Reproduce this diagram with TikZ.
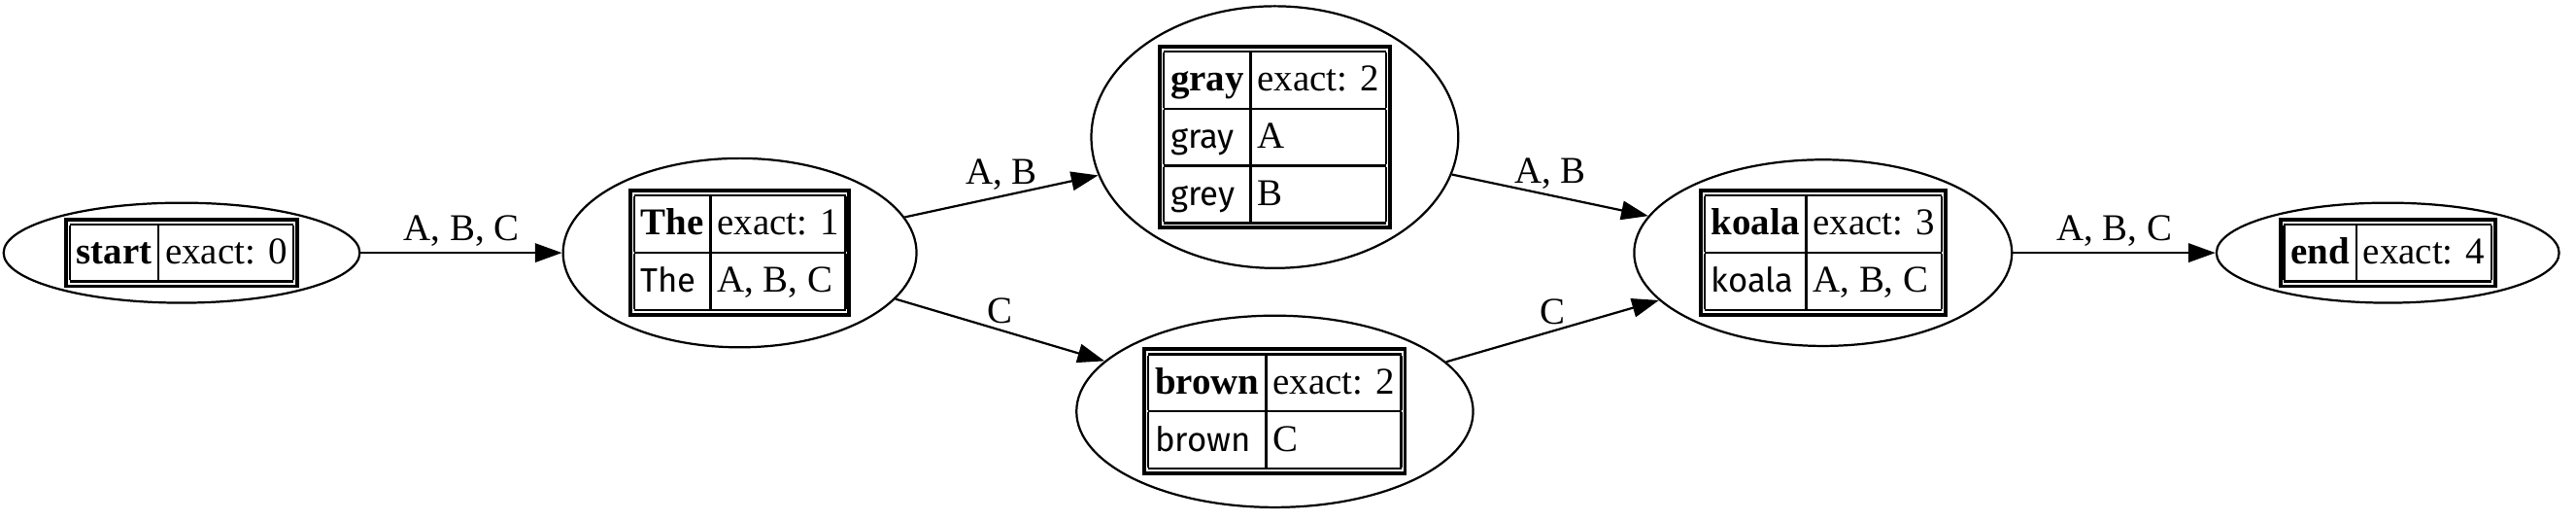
\documentclass[tikz,border=0pt]{standalone}
\usepackage{fontspec}
\setmainfont{Liberation Serif}
\newfontfamily\uncialfont{Fira Sans}
\usetikzlibrary{arrows.meta,shapes.geometric}

\setlength{\tabcolsep}{2.5pt}
\setlength{\arrayrulewidth}{0.8pt}
\renewcommand{\arraystretch}{1.2}
\newcommand{\uncial}[1]{{\uncialfont\fontsize{12.5}{15}\selectfont #1}}
\newcommand{\wordtab}[1]{{\setlength{\fboxrule}{1.4pt}\setlength{\fboxsep}{0.7pt}%
  \fbox{\begin{tabular}{|l|l|}\hline #1\end{tabular}}}}

\begin{document}
\begin{tikzpicture}[x=0.612pt,y=-0.612pt]
\useasboundingbox (0,0) rectangle (1560,315);

\begin{scope}[every node/.style={ellipse,draw,line width=0.8pt,inner sep=0pt,
                                 font=\fontsize{14}{17}\selectfont}]
    \node[minimum width=132pt,minimum height=36pt] (start) at (110,153)
        {\wordtab{\textbf{start} & exact: 0\\ \hline}};
    \node[minimum width=131pt,minimum height=70pt] (the) at (448,153)
        {\wordtab{\textbf{The} & exact: 1\\ \hline \uncial{The} & A, B, C\\ \hline}};
    \node[minimum width=136pt,minimum height=97pt] (gray) at (772,83)
        {\wordtab{\textbf{gray} & exact: 2\\ \hline \uncial{gray} & A\\ \hline \uncial{grey} & B\\ \hline}};
    \node[minimum width=147pt,minimum height=71pt] (brown) at (772,249)
        {\wordtab{\textbf{brown} & exact: 2\\ \hline \uncial{brown} & C\\ \hline}};
    \node[minimum width=140pt,minimum height=69pt] (koala) at (1104,153)
        {\wordtab{\textbf{koala} & exact: 3\\ \hline \uncial{koala} & A, B, C\\ \hline}};
    \node[minimum width=127pt,minimum height=36pt] (end) at (1446,153)
        {\wordtab{\textbf{end} & exact: 4\\ \hline}};
\end{scope}

\begin{scope}[>={Triangle[length=10pt,width=7pt]},
              every node/.style={font=\fontsize{14}{17}\selectfont,inner sep=2pt},
              every edge/.style={draw=black, line width=0.8pt}]
    \path [->] (start) edge node[above] {A, B, C} (the);
    \path [->] (the) edge node[above] {A, B} (gray);
    \path [->] (the) edge node[above] {C} (brown);
    \path [->] (gray) edge node[above] {A, B} (koala);
    \path [->] (brown) edge node[above] {C} (koala);
    \path [->] (koala) edge node[above] {A, B, C} (end);
\end{scope}
\end{tikzpicture}
\end{document}
